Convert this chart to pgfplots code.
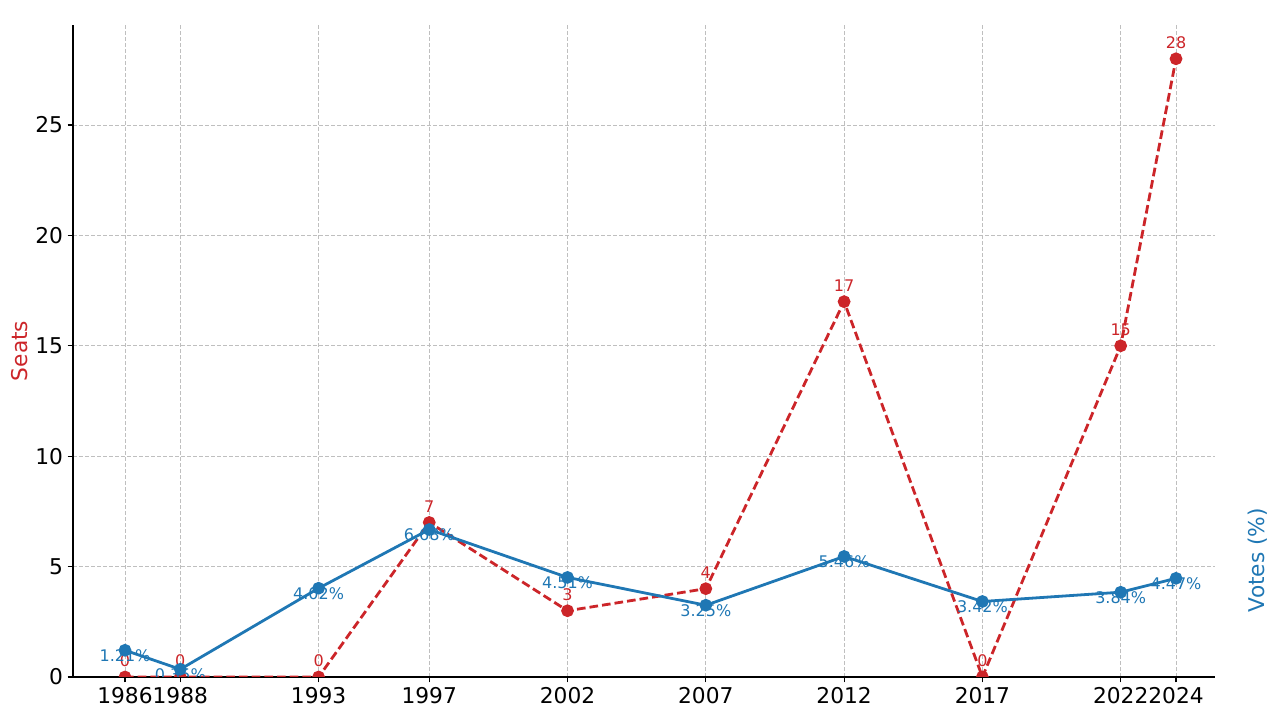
\documentclass[border=0pt]{standalone}
\usepackage{pgfplots}
\pgfplotsset{compat=1.18}
\usepackage{fontspec}
\setmainfont{DejaVu Sans}
\definecolor{tred}{HTML}{CC2529}
\definecolor{tblue}{HTML}{1F77B4}
\begin{document}
\begin{tikzpicture}
\path[use as bounding box] (-54.75pt,-26.25pt) rectangle (905.25pt,507.75pt);
\begin{axis}[
  name=ax,
  at={(0,0)}, anchor=south west,
  scale only axis, width=856.5pt, height=489pt,
  xmin=1984.12, xmax=2025.41, ymin=0, ymax=29.53,
  axis x line*=bottom, axis y line*=left,
  axis line style={-, line width=1pt, black},
  tick align=outside, major tick length=4pt,
  tick style={line width=0.8pt, black},
  xtick={1986,1988,1993,1997,2002,2007,2012,2017,2022,2024},
  xticklabels={1986,1988,1993,1997,2002,2007,2012,2017,2022,2024},
  ytick={0,5,10,15,20,25},
  /pgf/number format/assume math mode=true,
  ticklabel style={font=\fontsize{16.3}{19}\selectfont},
  grid=major,
  major grid style={dashed, dash pattern=on 3pt off 1.5pt, gray!50, line width=0.6pt},
  clip marker paths=true,
]
\addplot[tred, line width=2.1pt, dash pattern=on 6.5pt off 3pt,
  mark=*, mark size=3.7pt, mark options={solid},
  nodes near coords, every node near coord/.append style={font=\fontsize{12}{14}\selectfont, text=tred, anchor=center, yshift=12pt}]
  coordinates {(1986,0) (1988,0) (1993,0) (1997,7) (2002,3) (2007,4) (2012,17) (2017,0) (2022,15) (2024,28)};
\addplot[tblue, line width=2.1pt, mark=*, mark size=3.7pt,
  nodes near coords={\pgfmathprintnumber[fixed,fixed zerofill,precision=2]{\pgfplotspointmeta}\%},
  every node near coord/.append style={font=\fontsize{12}{14}\selectfont, text=tblue, anchor=center, yshift=-3.75pt}]
  coordinates {(1986,1.21) (1988,0.35) (1993,4.02) (1997,6.68) (2002,4.51) (2007,3.25) (2012,5.46) (2017,3.42) (2022,3.84) (2024,4.47)};
\end{axis}
\node[rotate=90, text=tred, font=\fontsize{16.3}{19}\selectfont] at ([xshift=-39.75pt]ax.west) {Seats};
\node[rotate=90, text=tblue, font=\fontsize{16.3}{19}\selectfont] at ([xshift=32.25pt, yshift=87.75pt]ax.south east) {Votes (\%)};
\end{tikzpicture}
\end{document}
